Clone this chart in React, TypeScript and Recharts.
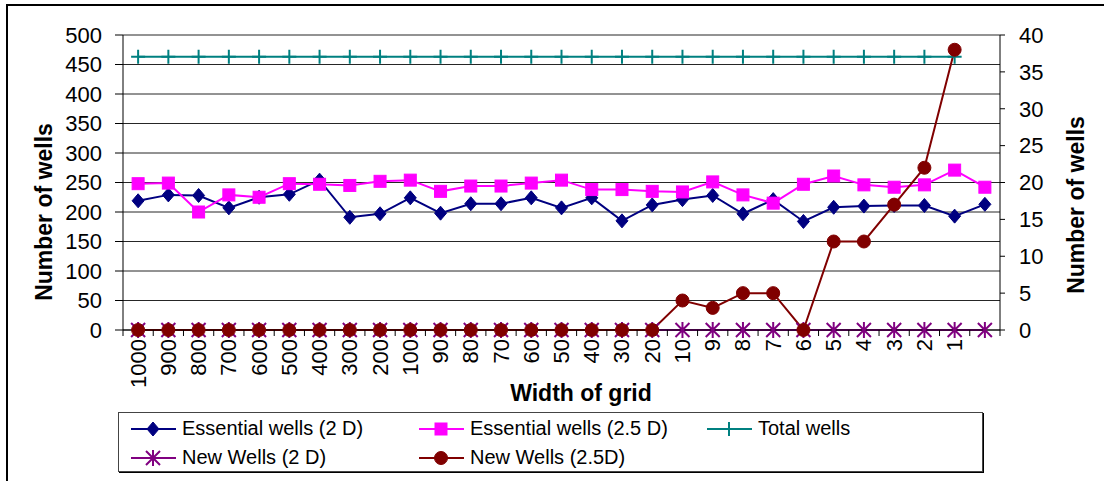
import React from 'react';
import { LineChart, Line, XAxis, YAxis, CartesianGrid, Legend } from 'recharts';

const categories = ['1000', '900', '800', '700', '600', '500', '400', '300', '200', '100', '90', '80', '70', '60', '50', '40', '30', '20', '10', '9', '8', '7', '6', '5', '4', '3', '2', '1', ''];
const essential2D = [219, 229, 228, 207, 225, 230, 254, 191, 197, 224, 198, 214, 214, 224, 207, 224, 185, 212, 221, 228, 197, 221, 184, 208, 210, 211, 211, 193, 213];
const essential25D = [248, 249, 200, 229, 225, 248, 247, 245, 252, 254, 235, 244, 244, 249, 254, 238, 238, 235, 234, 251, 229, 215, 247, 261, 246, 242, 246, 271, 242];
const totalWells = [463, 463, 463, 463, 463, 463, 463, 463, 463, 463, 463, 463, 463, 463, 463, 463, 463, 463, 463, 463, 463, 463, 463, 463, 463, 463, 463, 463, null];
const newWells2D = [0, 0, 0, 0, 0, 0, 0, 0, 0, 0, 0, 0, 0, 0, 0, 0, 0, 0, 0, 0, 0, 0, 0, 0, 0, 0, 0, 0, 0];
const newWells25D = [0, 0, 0, 0, 0, 0, 0, 0, 0, 0, 0, 0, 0, 0, 0, 0, 0, 0, 4, 3, 5, 5, 0, 12, 12, 17, 22, 38, null];

const leftTicks = [0, 50, 100, 150, 200, 250, 300, 350, 400, 450, 500];
const rightTicks = [0, 5, 10, 15, 20, 25, 30, 35, 40];

const data = categories.map((c, i) => ({
  grid: c,
  e2: essential2D[i],
  e25: essential25D[i],
  total: totalWells[i],
  n2: newWells2D[i],
  n25: newWells25D[i],
}));

const FONT = '"Liberation Sans", Arial, sans-serif';
const NAVY = '#000080';
const MAGENTA = '#FF00FF';
const TEAL = '#008080';
const PURPLE = '#800080';
const MAROON = '#800000';

const PLOT_LEFT = 123;
const PLOT_RIGHT = 1000;
const PLOT_BOTTOM = 330;
const BAND = (PLOT_RIGHT - PLOT_LEFT) / categories.length;

function marker(kind: string, cx: number, cy: number) {
  switch (kind) {
    case 'diamond':
      return <path d={`M${cx},${cy - 7}L${cx + 6},${cy}L${cx},${cy + 7}L${cx - 6},${cy}Z`} fill={NAVY} stroke={NAVY} />;
    case 'square':
      return <rect x={cx - 6} y={cy - 6} width={12} height={12} fill={MAGENTA} stroke={MAGENTA} />;
    case 'plus':
      return <path d={`M${cx - 7},${cy}H${cx + 7}M${cx},${cy - 7}V${cy + 7}`} stroke={TEAL} strokeWidth={2} fill="none" />;
    case 'star':
      return (
        <path
          d={`M${cx},${cy - 8}V${cy + 8}M${cx - 7},${cy - 7}L${cx + 7},${cy + 7}M${cx - 7},${cy + 7}L${cx + 7},${cy - 7}`}
          stroke={PURPLE}
          strokeWidth={2}
          fill="none"
        />
      );
    default:
      return <circle cx={cx} cy={cy} r={6.5} fill={MAROON} stroke={MAROON} />;
  }
}

const makeDot = (kind: string) => (props: any) => {
  const { cx, cy, index } = props;
  if (cx == null || cy == null || Number.isNaN(cy)) return <g key={index} />;
  return <g key={index}>{marker(kind, cx, cy)}</g>;
};

const XTick = (props: any) => {
  const { x, payload, index } = props;
  const bx = x - BAND / 2;
  return (
    <g>
      <line x1={bx} y1={PLOT_BOTTOM} x2={bx} y2={PLOT_BOTTOM + 6} stroke="#000" />
      {index === categories.length - 1 && (
        <line x1={x + BAND / 2} y1={PLOT_BOTTOM} x2={x + BAND / 2} y2={PLOT_BOTTOM + 6} stroke="#000" />
      )}
      <text
        transform={`translate(${x},${PLOT_BOTTOM + 9}) rotate(-90)`}
        textAnchor="end"
        dominantBaseline="central"
        fontSize={22}
        fontFamily={FONT}
        fill="#000"
      >
        {payload.value}
      </text>
    </g>
  );
};

const legendItems = [
  { name: 'Essential wells (2 D)', color: NAVY, kind: 'diamond', w: 288 },
  { name: 'Essential wells (2.5 D)', color: MAGENTA, kind: 'square', w: 288 },
  { name: 'Total wells', color: TEAL, kind: 'plus', w: 250 },
  { name: 'New Wells (2 D)', color: PURPLE, kind: 'star', w: 288 },
  { name: 'New Wells (2.5D)', color: MAROON, kind: 'circle', w: 288 },
];

const LegendBox = () => (
  <div
    style={{
      width: 865,
      height: 60,
      border: '1px solid #444',
      boxShadow: '1px 1px 0 #000',
      background: '#fff',
      fontFamily: FONT,
      fontSize: 20,
      display: 'flex',
      flexWrap: 'wrap',
      alignContent: 'flex-start',
      boxSizing: 'border-box',
      padding: '1px 0 0 11px',
    }}
  >
    {legendItems.map((it) => (
      <div key={it.name} style={{ width: it.w, height: 29, display: 'flex', alignItems: 'center' }}>
        <svg width={48} height={20} style={{ flex: 'none' }}>
          <line x1={1} y1={10} x2={46} y2={10} stroke={it.color} strokeWidth={2} />
          {marker(it.kind, 23, 10)}
        </svg>
        <span style={{ marginLeft: 4, color: '#000', whiteSpace: 'nowrap' }}>{it.name}</span>
      </div>
    ))}
  </div>
);

export default function App() {
  return (
    <div style={{ position: 'absolute', left: 0, top: 0, width: 1104, height: 481, overflow: 'hidden', background: '#fff' }}>
      <div
        style={{
          position: 'absolute',
          left: 6,
          top: 4,
          width: 1120,
          height: 500,
          border: '2px solid #000',
          boxSizing: 'border-box',
        }}
      />
      <div style={{ position: 'absolute', left: 0, top: 0 }}>
        <LineChart width={1104} height={481} data={data} margin={{ top: 35, right: 0, bottom: 0, left: 0 }}>
          <CartesianGrid horizontal vertical={false} stroke="#000" yAxisId="left" strokeOpacity={0.85} />
          <XAxis
            dataKey="grid"
            scale="band"
            interval={0}
            height={151}
            tickLine={false}
            tickSize={0}
            tick={<XTick />}
            axisLine={{ stroke: '#000' }}
            label={{
              content: () => (
                <text x={581} y={393} textAnchor="middle" dominantBaseline="central" fontFamily={FONT} fontWeight="bold" fontSize={23} fill="#000">
                  Width of grid
                </text>
              ),
            }}
          />
          <YAxis
            yAxisId="left"
            orientation="left"
            width={123}
            domain={[0, 500]}
            ticks={leftTicks}
            interval={0}
            tickSize={8}
            tickMargin={13}
            tickLine={{ stroke: '#000' }}
            axisLine={{ stroke: '#000' }}
            tick={{ fill: '#000', fontSize: 22, fontFamily: FONT }}
            label={{
              content: () => (
                <text
                  transform="translate(44,212) rotate(-90)"
                  textAnchor="middle"
                  dominantBaseline="central"
                  fontFamily={FONT}
                  fontWeight="bold"
                  fontSize={23}
                  fill="#000"
                >
                  Number of wells
                </text>
              ),
            }}
          />
          <YAxis
            yAxisId="right"
            orientation="right"
            width={104}
            domain={[0, 40]}
            ticks={rightTicks}
            interval={0}
            tickSize={5}
            tickMargin={14}
            tickLine={{ stroke: '#000' }}
            axisLine={{ stroke: '#000' }}
            tick={{ fill: '#000', fontSize: 22, fontFamily: FONT }}
            label={{
              content: () => (
                <text
                  transform="translate(1076,205) rotate(-90)"
                  textAnchor="middle"
                  dominantBaseline="central"
                  fontFamily={FONT}
                  fontWeight="bold"
                  fontSize={23}
                  fill="#000"
                >
                  Number of wells
                </text>
              ),
            }}
          />
          <Legend
            layout="vertical"
            verticalAlign="middle"
            align="center"
            content={<LegendBox />}
            wrapperStyle={{ top: 412, left: 118, width: 865, height: 60, margin: 0 }}
          />
          <Line yAxisId="left" dataKey="e2" name="Essential wells (2 D)" stroke={NAVY} strokeWidth={2} dot={makeDot('diamond')} activeDot={false} isAnimationActive={false} />
          <Line yAxisId="left" dataKey="e25" name="Essential wells (2.5 D)" stroke={MAGENTA} strokeWidth={2} dot={makeDot('square')} activeDot={false} isAnimationActive={false} />
          <Line yAxisId="left" dataKey="total" name="Total wells" stroke={TEAL} strokeWidth={2} dot={makeDot('plus')} activeDot={false} isAnimationActive={false} />
          <Line yAxisId="right" dataKey="n2" name="New Wells (2 D)" stroke={PURPLE} strokeWidth={2} dot={makeDot('star')} activeDot={false} isAnimationActive={false} />
          <Line yAxisId="right" dataKey="n25" name="New Wells (2.5D)" stroke={MAROON} strokeWidth={2} dot={makeDot('circle')} activeDot={false} isAnimationActive={false} />
        </LineChart>
      </div>
    </div>
  );
}
